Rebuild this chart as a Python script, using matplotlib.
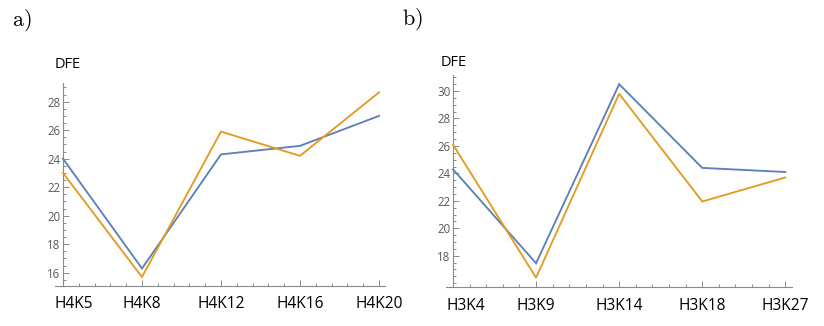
import numpy as np
import matplotlib.pyplot as plt
from matplotlib.ticker import MultipleLocator

plt.rcParams['font.family'] = ['Open Sans', 'DejaVu Sans']
plt.rcParams['mathtext.fontset'] = 'cm'

# data
labels_a = ['H4K5', 'H4K8', 'H4K12', 'H4K16', 'H4K20']
blue_a = [24.0, 16.3, 24.3, 24.9, 27.0]
orange_a = [23.0, 15.7, 25.9, 24.2, 28.65]

labels_b = ['H3K4', 'H3K9', 'H3K14', 'H3K18', 'H3K27']
blue_b = [24.3, 17.45, 30.5, 24.4, 24.1]
orange_b = [26.1, 16.4, 29.8, 21.95, 23.7]

blue = '#5E81B5'
orange = '#E19C24'
axis_grey = '#8a8a8a'
label_grey = '#5a5a5a'

fig = plt.figure(figsize=(8.24, 3.26), dpi=100)

# axes rectangles in figure fractions
ax_a = fig.add_axes([55 / 824, 40 / 326, 330 / 824, 203.3 / 326])
ax_b = fig.add_axes([446 / 824, 39.3 / 326, 346 / 824, 211.7 / 326])

panels = [
    (ax_a, labels_a, blue_a, orange_a, (-0.101, 4.076), (15.07, 29.33), np.arange(16, 29, 2)),
    (ax_b, labels_b, blue_b, orange_b, (-0.084, 4.08), (15.74, 31.17), np.arange(18, 31, 2)),
]

for ax, labels, yb, yo, xlim, ylim, yticks in panels:
    x = np.arange(len(labels))
    ax.plot(x, yb, color=blue, lw=1.35, solid_joinstyle='miter', zorder=3)
    ax.plot(x, yo, color=orange, lw=1.35, solid_joinstyle='miter', zorder=3)
    ax.set_xlim(xlim)
    ax.set_ylim(ylim)

    for s in ['top', 'right']:
        ax.spines[s].set_visible(False)
    ax.spines['left'].set_position(('data', 0))
    for s in ['left', 'bottom']:
        ax.spines[s].set_color(axis_grey)
        ax.spines[s].set_linewidth(0.8)

    ax.set_xticks(x)
    ax.set_xticklabels([])
    ax.xaxis.set_minor_locator(MultipleLocator(0.2))
    ax.set_yticks(yticks)
    ax.yaxis.set_minor_locator(MultipleLocator(0.5))
    ax.tick_params(axis='both', which='both', direction='in', color=axis_grey, width=0.7)
    ax.tick_params(axis='x', which='major', length=4.5)
    ax.tick_params(axis='x', which='minor', length=2.5)
    ax.tick_params(axis='y', which='major', length=4, labelsize=8.3, labelcolor=label_grey, pad=2)
    ax.tick_params(axis='y', which='minor', length=2.5)

    # category labels below the axis; the first one starts at the axis end
    trans = ax.get_xaxis_transform()
    for i, lab in enumerate(labels):
        if i == 0:
            ax.text(xlim[0], -0.09, lab, transform=trans, ha='left', va='center',
                    fontsize=11.2, color='black')
        else:
            ax.text(i, -0.09, lab, transform=trans, ha='center', va='center',
                    fontsize=11.2, color='black')

fig.text(68 / 824, 1 - 64 / 326, 'DFE', ha='center', va='center', fontsize=10.5)
fig.text(454 / 824, 1 - 62 / 326, 'DFE', ha='center', va='center', fontsize=10.5)
fig.text(12 / 824, 1 - 20 / 326, r'$\mathrm{a)}$', ha='left', va='center', fontsize=16)
fig.text(402 / 824, 1 - 19 / 326, r'$\mathrm{b)}$', ha='left', va='center', fontsize=16)

plt.savefig('out.png', dpi=100)
